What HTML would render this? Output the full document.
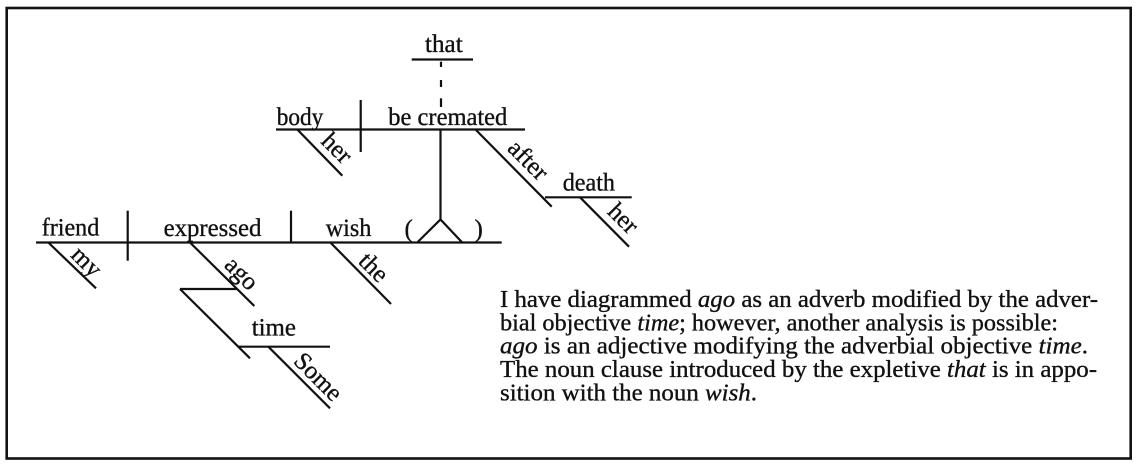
<!DOCTYPE html>
<html>
<head>
<meta charset="utf-8">
<style>
  html, body { margin: 0; padding: 0; background: #fff; }
  svg { display: block; }
  text { font-family: "Liberation Serif", serif; fill: #111; stroke: #111; stroke-width: 0.35px; }
  .lbl { font-size: 25px; }
  .rot { font-size: 25px; }
  .par { font-size: 24px; }
  line, polyline { stroke: #111; stroke-width: 2.2; fill: none; }
</style>
</head>
<body>
<svg width="1137" height="469" viewBox="0 0 1137 469" xmlns="http://www.w3.org/2000/svg">
  <rect x="0" y="0" width="1137" height="469" fill="#fff"/>
  <!-- frame -->
  <rect x="6.7" y="8" width="1124" height="450.5" fill="none" stroke="#111" stroke-width="2.6"/>

  <!-- that -->
  <text class="lbl" x="425" y="52" textLength="37.7" lengthAdjust="spacingAndGlyphs">that</text>
  <line x1="411.7" y1="59.5" x2="473" y2="59.5"/>
  <line x1="441" y1="61.7" x2="441" y2="67"/>
  <line x1="441" y1="80" x2="441" y2="87"/>
  <line x1="441" y1="98.3" x2="441" y2="107"/>

  <!-- body | be cremated -->
  <text class="lbl" x="276.7" y="125" textLength="46.6" lengthAdjust="spacingAndGlyphs">body</text>
  <text class="lbl" x="388.3" y="125" textLength="119" lengthAdjust="spacingAndGlyphs">be cremated</text>
  <line x1="276" y1="129.5" x2="525" y2="129.5"/>
  <line x1="360.7" y1="100" x2="360.7" y2="152"/>
  <line x1="297.3" y1="129.5" x2="342.3" y2="175.7"/>
  <text class="rot" text-anchor="middle" transform="translate(331.3,153.7) rotate(45)">her</text>

  <!-- stem to pedestal -->
  <line x1="440.5" y1="129.5" x2="440.5" y2="219.5"/>
  <polyline points="416.7,243 440.5,219.5 462.7,243"/>

  <!-- after death her -->
  <line x1="476" y1="130" x2="551.7" y2="206.7"/>
  <text class="rot" text-anchor="middle" transform="translate(522.6,165.7) rotate(45)">after</text>
  <text class="lbl" x="562.7" y="190.7" textLength="52.3" lengthAdjust="spacingAndGlyphs">death</text>
  <line x1="545" y1="197.3" x2="631.7" y2="197.3"/>
  <line x1="580" y1="197.3" x2="629" y2="246.7"/>
  <text class="rot" text-anchor="middle" transform="translate(617.6,224) rotate(45)">her</text>

  <!-- main line -->
  <text class="lbl" x="41.7" y="235.7" textLength="57.6" lengthAdjust="spacingAndGlyphs">friend</text>
  <text class="lbl" x="163.6" y="236" textLength="97.8" lengthAdjust="spacingAndGlyphs">expressed</text>
  <text class="lbl" x="325.7" y="236" textLength="45.7" lengthAdjust="spacingAndGlyphs">wish</text>
  <text class="lbl" x="404.5" y="237">(</text>
  <text class="lbl" x="474.5" y="237">)</text>
  <line x1="36" y1="242.5" x2="501.7" y2="242.5"/>
  <line x1="127.7" y1="210.7" x2="127.7" y2="260.7"/>
  <line x1="291" y1="210.7" x2="291" y2="242.5"/>

  <!-- my -->
  <line x1="48.3" y1="242.5" x2="96" y2="288.3"/>
  <text class="rot" text-anchor="middle" transform="translate(81,267.4) rotate(45)">my</text>

  <!-- the -->
  <line x1="330.4" y1="242.5" x2="391" y2="304"/>
  <text class="rot" text-anchor="middle" transform="translate(368,273) rotate(45)">the</text>

  <!-- ago -->
  <line x1="190" y1="242.5" x2="254.3" y2="306"/>
  <text class="rot" text-anchor="middle" transform="translate(236,279) rotate(45)">ago</text>
  <line x1="180" y1="289" x2="236.5" y2="289"/>
  <line x1="180" y1="289" x2="250" y2="358.3"/>

  <!-- time / Some -->
  <text class="lbl" x="251.7" y="335.7" textLength="44.3" lengthAdjust="spacingAndGlyphs">time</text>
  <line x1="238.3" y1="346.7" x2="330" y2="346.7"/>
  <line x1="268.3" y1="346.7" x2="330" y2="408.3"/>
  <text class="rot" text-anchor="middle" transform="translate(312.6,382.4) rotate(45)">Some</text>

  <!-- paragraph -->
  <text class="par" x="500" y="307" textLength="598" lengthAdjust="spacingAndGlyphs">I have diagrammed <tspan font-style="italic">ago</tspan> as an adverb modified by the adver-</text>
  <text class="par" x="500" y="330.3" textLength="558" lengthAdjust="spacingAndGlyphs">bial objective <tspan font-style="italic">time</tspan>; however, another analysis is possible:</text>
  <text class="par" x="500" y="353.6" textLength="588" lengthAdjust="spacingAndGlyphs"><tspan font-style="italic">ago</tspan> is an adjective modifying the adverbial objective <tspan font-style="italic">time</tspan>.</text>
  <text class="par" x="500" y="377" textLength="597" lengthAdjust="spacingAndGlyphs">The noun clause introduced by the expletive <tspan font-style="italic">that</tspan> is in appo-</text>
  <text class="par" x="500" y="400.3" textLength="257" lengthAdjust="spacingAndGlyphs">sition with the noun <tspan font-style="italic">wish</tspan>.</text>
</svg>
</body>
</html>
